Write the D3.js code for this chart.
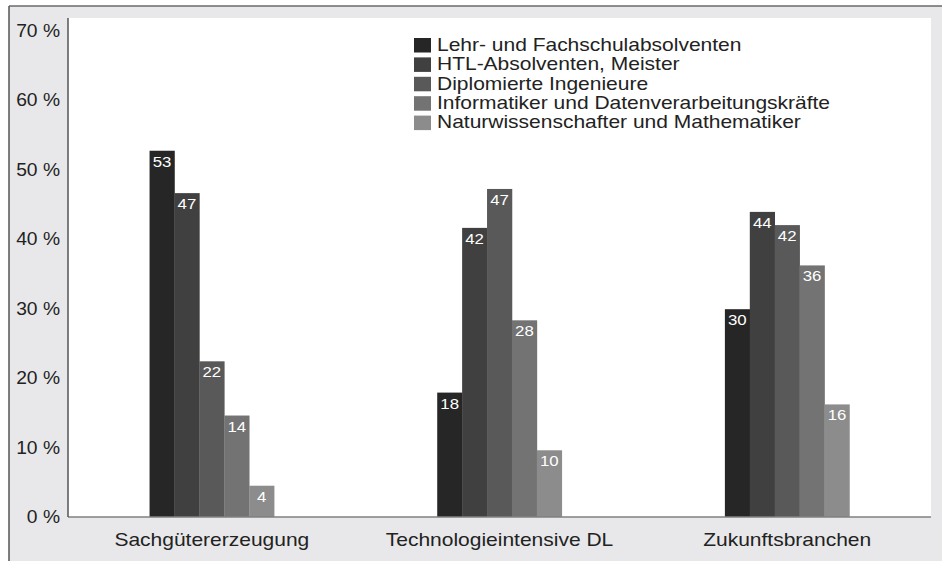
<!DOCTYPE html>
<html><head><meta charset="utf-8">
<script src="https://cdn.jsdelivr.net/npm/d3@7"></script>
<style>
html,body{margin:0;padding:0;background:#fff;}
svg{display:block;font-family:"Liberation Sans",Arial,Helvetica,sans-serif;}
</style></head>
<body><svg id="c" width="942" height="561"></svg>
<script>
// ---- data ----
const categories = ["Sachgütererzeugung", "Technologieintensive DL", "Zukunftsbranchen"];
const seriesNames = ["Lehr- und Fachschulabsolventen", "HTL-Absolventen, Meister", "Diplomierte Ingenieure",
  "Informatiker und Datenverarbeitungskräfte", "Naturwissenschafter und Mathematiker"];
// bar heights (percent)
const lehr   = [52.7, 17.9, 29.9];
const htl    = [46.6, 41.6, 43.9];
const dipl   = [22.4, 47.2, 42.0];
const inform = [14.6, 28.3, 36.2];
const natur  = [4.5,  9.6, 16.2];
// printed value labels
const lehrLbl   = [53, 18, 30];
const htlLbl    = [47, 42, 44];
const diplLbl   = [22, 47, 42];
const informLbl = [14, 28, 36];
const naturLbl  = [4, 10, 16];
const yTicks = [0, 10, 20, 30, 40, 50, 60, 70];

const series = [lehr, htl, dipl, inform, natur];
const seriesLbl = [lehrLbl, htlLbl, diplLbl, informLbl, naturLbl];
const colors = ["#262626", "#404040", "#595959", "#737373", "#8c8c8c"];

const SX = 1.2; // horizontal stretch of the original artwork's text
const svg = d3.select("#c");
const L = 68, R = 931, T = 18, B = 517;

// frame
svg.append("rect").attr("x", 9).attr("y", 6).attr("width", 942 - 9).attr("height", 561 - 6).attr("fill", "#e8e8ea");
svg.append("line").attr("x1", 9).attr("x2", 942).attr("y1", 6).attr("y2", 6).attr("stroke", "#6a6a6a").attr("stroke-width", 1.5);
svg.append("line").attr("x1", 9).attr("x2", 9).attr("y1", 6).attr("y2", 561).attr("stroke", "#555").attr("stroke-width", 1.5);
svg.append("rect").attr("x", L).attr("y", T).attr("width", R - L).attr("height", B - T).attr("fill", "#fff");

const y = d3.scaleLinear().domain([0, 70]).range([B, 30.5]);
const x0 = d3.scaleBand().domain(categories).range([L, R]).paddingInner(0.567).paddingOuter(0.2835);
const x1 = d3.scaleBand().domain(d3.range(series.length)).range([0, x0.bandwidth()]).padding(0);

// bars
const groups = svg.append("g").selectAll("g").data(categories).join("g")
  .attr("transform", c => `translate(${x0(c)},0)`);
groups.each(function(c, ci) {
  const g = d3.select(this);
  series.forEach((s, si) => {
    g.append("rect").attr("x", x1(si)).attr("width", x1.bandwidth() + 0.3)
      .attr("y", y(s[ci])).attr("height", y(0) - y(s[ci])).attr("fill", colors[si]);
    g.append("text")
      .attr("transform", `translate(${x1(si) + x1.bandwidth() / 2},${y(s[ci]) + 16}) scale(${SX},1)`)
      .attr("text-anchor", "middle").attr("fill", "#fff").attr("font-size", 14)
      .text(seriesLbl[si][ci]);
  });
});

// y axis
const TX = 1.1;
const yAxis = svg.append("g").attr("transform", `translate(${L},0)`)
  .call(d3.axisLeft(y).tickValues(yTicks).tickSize(0).tickFormat(d => d + " %"));
yAxis.select(".domain").remove();
yAxis.selectAll("text").attr("font-size", 17.5).attr("fill", "#222").attr("font-family", null)
  .attr("x", -8 / TX).attr("transform", `scale(${TX},1)`);

// x axis
const xAxis = svg.append("g").attr("transform", `translate(0,${B})`)
  .call(d3.axisBottom(x0).tickSize(0));
xAxis.select(".domain").remove();
xAxis.selectAll("text").attr("font-size", 17.5).attr("fill", "#222").attr("font-family", null)
  .attr("y", 29).attr("dy", 0).attr("transform", `scale(${SX},1)`);

svg.append("line").attr("x1", L).attr("x2", R).attr("y1", B).attr("y2", B).attr("stroke", "#808080").attr("stroke-width", 1.5);
svg.append("line").attr("x1", L).attr("x2", L).attr("y1", T).attr("y2", B).attr("stroke", "#555").attr("stroke-width", 1.5);

// legend
const leg = svg.append("g").attr("transform", "translate(414,38)");
seriesNames.forEach((n, i) => {
  leg.append("rect").attr("x", 0).attr("y", i * 19.4).attr("width", 17).attr("height", 14.5).attr("fill", colors[i]);
  leg.append("text").attr("transform", `translate(23,${i * 19.4 + 12.7}) scale(${SX},1)`)
    .attr("font-size", 17.5).attr("fill", "#222").text(n);
});
</script></body></html>
